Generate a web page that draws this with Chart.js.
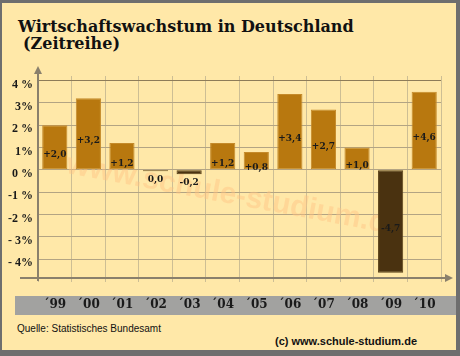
<!DOCTYPE html>
<html><head><meta charset="utf-8">
<script src="https://cdn.jsdelivr.net/npm/chart.js@4/dist/chart.umd.min.js"></script>
<style>
html,body{margin:0;padding:0;background:#fff;}
#outer{position:relative;width:460px;height:356px;background:#6E6E6E;overflow:hidden;}
#inner{position:absolute;left:2px;top:3px;width:454px;height:347px;background:#FFE8A8;}
#band{position:absolute;left:15px;top:296px;width:441px;height:19px;background:#A2A2A0;}
#title1,#title2{position:absolute;font-family:"DejaVu Serif",Georgia,serif;font-weight:bold;font-size:16px;line-height:18px;color:#111;white-space:nowrap;}
#title1{left:18px;top:18px;}
#title2{left:23px;top:35px;}
#src{position:absolute;left:17px;top:323px;font-family:"Liberation Sans",Arial,sans-serif;font-size:10px;line-height:12px;color:#111;white-space:nowrap;}
#copy{position:absolute;left:275px;top:335px;font-family:"Liberation Sans",Arial,sans-serif;font-weight:bold;font-size:11px;line-height:13px;color:#111;white-space:nowrap;}
canvas{position:absolute;left:0;top:0;}
</style></head>
<body>
<div id="outer">
  <div id="inner"></div>
  <div id="band"></div>
  <div id="title1">Wirtschaftswachstum in Deutschland</div>
  <div id="title2">(Zeitreihe)</div>
  <div id="src">Quelle: Statistisches Bundesamt</div>
  <div id="copy">(c) www.schule-studium.de</div>
  <canvas id="c" width="460" height="356"></canvas>
</div>
<script>
const years = ["´99","´00","´01","´02","´03","´04","´05","´06","´07","´08","´09","´10"];
const growth = [2.0, 3.2, 1.2, -0.06, -0.2, 1.2, 0.8, 3.4, 2.7, 1.0, -4.6, 3.5];
const valueLabels = ["+2,0","+3,2","+1,2","0,0","-0,2","+1,2","+0,8","+3,4","+2,7","+1,0","-4,7","+4,6"];
const yTickValues = [-4, -3, -2, -1, 0, 1, 2, 3, 4];
const yTickLabels = ["- 4%", "- 3%", "-2 %", "-1 %", "0 %", "1%", "2 %", "3%", "4 %"];
const watermark = "www.schule-studium.de";

const POS = "#B8780F", NEG = "#4A3210";

const decor = {
  id: "decor",
  beforeDatasetsDraw(chart) {
    const ctx = chart.ctx, a = chart.chartArea;
    ctx.save();
    ctx.translate(235, 196);
    ctx.rotate(10.6 * Math.PI / 180);
    ctx.font = "bold 30px 'Liberation Sans', Arial, sans-serif";
    ctx.fillStyle = "rgba(255,196,130,0.45)";
    ctx.textAlign = "center"; ctx.textBaseline = "middle";
    ctx.fillText(watermark, 0, 0);
    ctx.restore();
    ctx.save();
    ctx.strokeStyle = "#8A806C"; ctx.fillStyle = "#8A806C";
    ctx.lineWidth = 2;
    ctx.beginPath();
    ctx.moveTo(a.left, a.top - 4); ctx.lineTo(a.left, a.bottom + 3);
    ctx.moveTo(a.left - 18, a.bottom); ctx.lineTo(a.right + 6, a.bottom);
    ctx.stroke();
    ctx.beginPath();
    ctx.moveTo(a.left, a.top - 10); ctx.lineTo(a.left - 4, a.top - 2); ctx.lineTo(a.left + 4, a.top - 2); ctx.closePath();
    ctx.fill();
    ctx.beginPath();
    ctx.moveTo(a.right + 12, a.bottom); ctx.lineTo(a.right + 4, a.bottom - 4); ctx.lineTo(a.right + 4, a.bottom + 4); ctx.closePath();
    ctx.fill();
    ctx.restore();
  },
  afterDatasetsDraw(chart) {
    const ctx = chart.ctx;
    const meta = chart.getDatasetMeta(0);
    ctx.save();
    ctx.font = "bold 9px 'DejaVu Serif', Georgia, serif";
    ctx.fillStyle = "#1a1a1a";
    ctx.textAlign = "center"; ctx.textBaseline = "middle";
    meta.data.forEach((bar, i) => {
      const top = Math.min(bar.y, bar.base), bot = Math.max(bar.y, bar.base);
      let ly;
      if (bot - top > 15) ly = (top + bot) / 2 + 7;
      else ly = bot + 8;
      ctx.fillText(valueLabels[i], bar.x, ly);
    });
    ctx.restore();
  }
};

new Chart(document.getElementById("c"), {
  type: "bar",
  data: {
    labels: years,
    datasets: [{
      data: growth,
      backgroundColor: growth.map(v => v < 0 ? NEG : POS),
      borderColor: growth.map(v => v < 0 ? "#5A4018" : "#C58A2A"),
      borderWidth: 1,
      borderSkipped: false,
      barPercentage: 0.75,
      categoryPercentage: 1.0
    }]
  },
  options: {
    responsive: false,
    animation: false,
    devicePixelRatio: 1,
    layout: { padding: { top: 76, right: 19, left: 0, bottom: 0 } },
    plugins: { legend: { display: false }, tooltip: { enabled: false }, title: { display: false } },
    scales: {
      x: {
        offset: true,
        grid: { offset: true, color: "#CDBE94", lineWidth: 1, drawTicks: true, tickLength: 4, tickColor: "#CDBE94" },
        border: { display: false },
        ticks: { font: { family: "'DejaVu Serif', Georgia, serif", weight: "bold", size: 12 }, color: "#1a1a1a", padding: 16, maxRotation: 0, autoSkip: false },
        afterFit(s) { s.height = 78; }
      },
      y: {
        min: -4.84, max: 4.2,
        afterBuildTicks(s) { s.ticks = yTickValues.map(v => ({ value: v })); },
        grid: { color: ctx => (ctx.tick && ctx.tick.value === 4) ? "#8E7C58" : "#B3A483", lineWidth: 1, drawTicks: false },
        border: { display: false },
        ticks: {
          callback: v => { const i = yTickValues.indexOf(v); return i >= 0 ? yTickLabels[i] : ""; },
          font: { family: "'Liberation Serif', 'Times New Roman', serif", weight: "bold", size: 12 },
          color: "#1a1a1a", padding: 5, labelOffset: 4
        },
        afterFit(s) { s.width = 38; }
      }
    }
  },
  plugins: [decor]
});
</script>
</body></html>
